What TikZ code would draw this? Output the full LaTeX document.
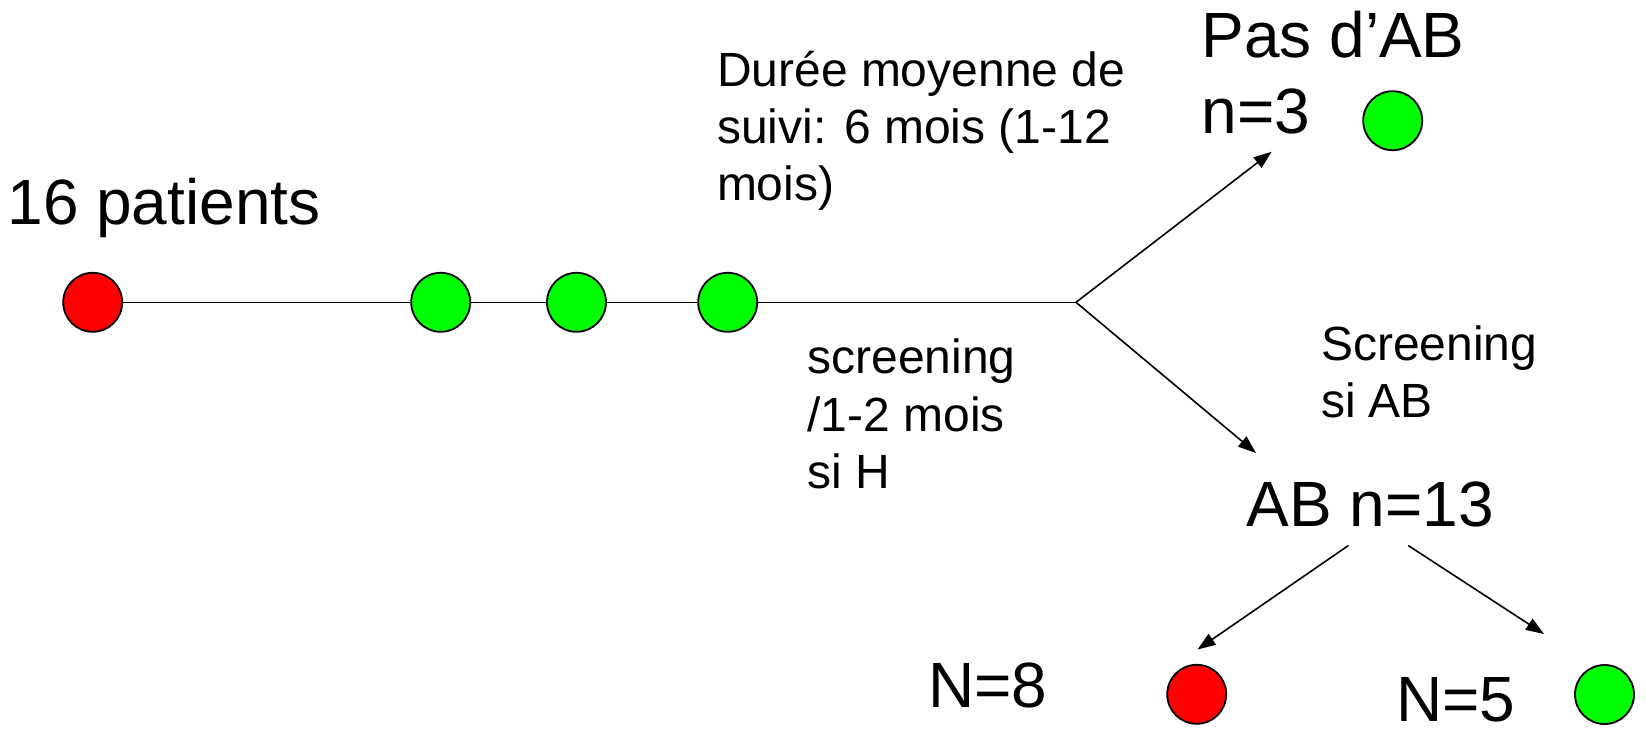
\documentclass[tikz,border=0pt]{standalone}
\usepackage{fontspec}
\setmainfont{Liberation Sans}
\usetikzlibrary{arrows.meta}
\definecolor{posred}{RGB}{255,0,0}
\definecolor{posgreen}{RGB}{0,255,0}
\newcommand\biglabel{\fontsize{64}{76}\selectfont}
\newcommand\smalllabel{\fontsize{48}{57.5}\selectfont}
% several lines stacked, the node baseline being the first one
\newcommand\linesof[2]{\vtop{\baselineskip=#1\relax #2}}
\begin{document}
\begin{tikzpicture}[x=1pt,y=-1pt,
  dot/.style={circle,draw=black,line width=1.8pt,minimum size=59pt,inner sep=0pt},
  reddot/.style={dot,fill=posred},
  greendot/.style={dot,fill=posgreen},
  link/.style={line width=1.6pt},
  arrowlink/.style={line width=1.6pt,-{Triangle[length=18pt,width=13pt]}},
  lbl/.style={anchor=base west,inner sep=0pt,outer sep=0pt}
]
\useasboundingbox (0,0) rectangle (1646,728);

% timeline of the cohort
\node[reddot]   (start) at (92.7,302.3) {};
\node[greendot] (v1)    at (440.7,302.3) {};
\node[greendot] (v2)    at (576.5,302.3) {};
\node[greendot] (v3)    at (727.7,302.3) {};
\coordinate (fork) at (1076,302.3);
\draw[link] (start) -- (v1) -- (v2) -- (v3) -- (fork);

\node[lbl,font=\biglabel] (title) at (7.5,224) {16 patients};

% follow-up notes
\node[lbl,font=\smalllabel] (follow) at (717,86.7)
  {\linesof{57pt}{\hbox{Durée moyenne de}\hbox{suivi: 6 mois (1-12}\hbox{mois)}}};
\node[lbl,font=\smalllabel] (screenH) at (807.5,373.5)
  {\linesof{57.5pt}{\hbox{screening}\hbox{/1-2 mois}\hbox{si H}}};

% split of the cohort
\coordinate (upend)   at (1271.7,151.7);
\coordinate (downend) at (1256,453);
\draw[arrowlink] (fork) -- (upend);
\draw[arrowlink] (fork) -- (downend);

\node[lbl,font=\biglabel] (noab) at (1201.5,57.3)
  {\linesof{76pt}{\hbox{Pas d’AB}\hbox{n=3}}};
\node[greendot] (noabdot) at (1392.7,120.7) {};

\node[lbl,font=\smalllabel] (screenAB) at (1321,360)
  {\linesof{57pt}{\hbox{Screening}\hbox{si AB}}};

\node[lbl,font=\biglabel] (ab) at (1246.5,526) {AB n=13};

% outcome of the AB group
\coordinate (abL)     at (1348.4,545.5);
\coordinate (abR)     at (1408.2,545.5);
\coordinate (toRed)   at (1197.5,649.5);
\coordinate (toGreen) at (1544,634);
\draw[arrowlink] (abL) -- (toRed);
\draw[arrowlink] (abR) -- (toGreen);

\node[lbl,font=\biglabel] (n8) at (928,707.3) {N=8};
\node[reddot] (abred) at (1196.7,694.3) {};
\node[lbl,font=\biglabel] (n5) at (1396,721) {N=5};
\node[greendot] (abgreen) at (1604.5,694.5) {};
\end{tikzpicture}
\end{document}
